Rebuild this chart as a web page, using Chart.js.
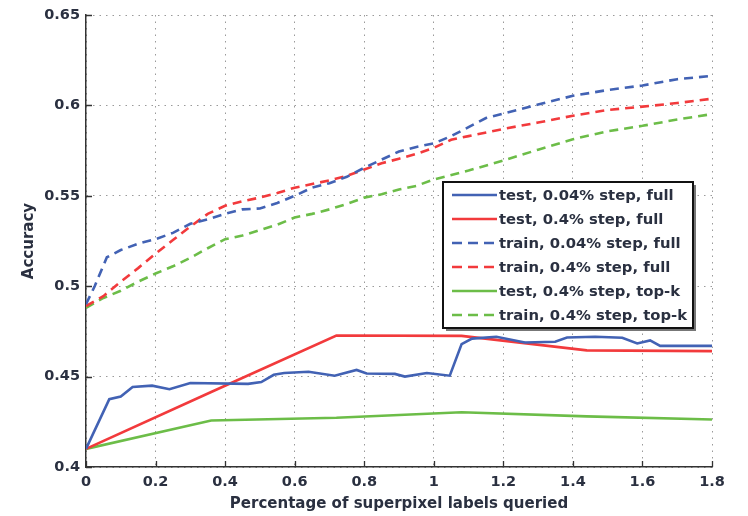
<!DOCTYPE html>
<html>
<head>
<meta charset="utf-8">
<script src="https://cdn.jsdelivr.net/npm/chart.js@4.4.1/dist/chart.umd.min.js"></script>
<style>
  html, body { margin: 0; padding: 0; background: #fff; }
  #wrap { width: 748px; height: 516px; position: relative; }
</style>
</head>
<body>
<div id="wrap"><canvas id="c" width="748" height="516"></canvas></div>
<script>
// ---- tick labels ----
const xTickValues = [0, 0.2, 0.4, 0.6, 0.8, 1, 1.2, 1.4, 1.6, 1.8];
const yTickValues = [0.4, 0.45, 0.5, 0.55, 0.6, 0.65];
const xTitle = 'Percentage of superpixel labels queried';
const yTitle = 'Accuracy';

// ---- series ----
const seriesLabels = [
  'test, 0.04% step, full',
  'test, 0.4% step, full',
  'train, 0.04% step, full',
  'train, 0.4% step, full',
  'test, 0.4% step, top-k',
  'train, 0.4% step, top-k'
];

const testFineX = [0, 0.067, 0.1, 0.134, 0.19, 0.24, 0.30, 0.466, 0.504, 0.54, 0.57, 0.64, 0.715, 0.778, 0.807, 0.888, 0.917, 0.98, 1.046, 1.08, 1.11, 1.18, 1.262, 1.349, 1.383, 1.464, 1.542, 1.585, 1.622, 1.651, 1.8];
const testFineY = [0.410, 0.4375, 0.439, 0.4443, 0.445, 0.443, 0.4465, 0.446, 0.447, 0.451, 0.452, 0.4527, 0.4505, 0.4537, 0.4517, 0.4515, 0.450, 0.452, 0.4505, 0.468, 0.471, 0.472, 0.4689, 0.4693, 0.4716, 0.472, 0.4715, 0.4683, 0.470, 0.467, 0.467];

const testCoarseX = [0, 0.36, 0.72, 1.08, 1.44, 1.8];
const testCoarseY = [0.410, 0.4415, 0.4727, 0.4725, 0.4645, 0.4641];

const trainFineX = [0, 0.025, 0.06, 0.1, 0.15, 0.2, 0.25, 0.3, 0.35, 0.4, 0.45, 0.5, 0.55, 0.6, 0.65, 0.7, 0.75, 0.8, 0.85, 0.9, 0.95, 1.0, 1.05, 1.1, 1.15, 1.2, 1.3, 1.4, 1.5, 1.6, 1.7, 1.8];
const trainFineY = [0.490, 0.500, 0.516, 0.520, 0.5235, 0.526, 0.5295, 0.5345, 0.537, 0.540, 0.5425, 0.543, 0.546, 0.550, 0.5545, 0.557, 0.5605, 0.5655, 0.570, 0.5745, 0.577, 0.579, 0.583, 0.588, 0.593, 0.5955, 0.6005, 0.6053, 0.6085, 0.611, 0.6145, 0.6163];

const trainCoarseX = [0, 0.05, 0.1, 0.15, 0.2, 0.25, 0.3, 0.35, 0.4, 0.45, 0.5, 0.55, 0.6, 0.65, 0.7, 0.75, 0.8, 0.85, 0.9, 0.95, 1.0, 1.05, 1.1, 1.2, 1.3, 1.4, 1.5, 1.6, 1.7, 1.8];
const trainCoarseY = [0.489, 0.4945, 0.5025, 0.510, 0.518, 0.5255, 0.533, 0.540, 0.5445, 0.547, 0.549, 0.5515, 0.5545, 0.5565, 0.5585, 0.561, 0.5645, 0.568, 0.5705, 0.5732, 0.5765, 0.581, 0.583, 0.587, 0.5905, 0.5943, 0.5975, 0.5993, 0.6013, 0.6037];

const testTopkX = [0, 0.36, 0.72, 1.08, 1.44, 1.8];
const testTopkY = [0.410, 0.4257, 0.4272, 0.4303, 0.4280, 0.4263];

const trainTopkX = [0, 0.05, 0.1, 0.15, 0.2, 0.25, 0.3, 0.35, 0.4, 0.45, 0.5, 0.55, 0.6, 0.65, 0.7, 0.75, 0.8, 0.85, 0.9, 0.95, 1.0, 1.1, 1.2, 1.3, 1.4, 1.5, 1.6, 1.7, 1.8];
const trainTopkY = [0.488, 0.4935, 0.4975, 0.5025, 0.507, 0.511, 0.5157, 0.521, 0.526, 0.528, 0.531, 0.534, 0.538, 0.540, 0.5425, 0.5455, 0.549, 0.5508, 0.5535, 0.5555, 0.559, 0.564, 0.5695, 0.5755, 0.5813, 0.5857, 0.5887, 0.5922, 0.5952];

const BLUE = '#4262b4';
const RED = '#f23a3c';
const GREEN = '#6cbd48';
const DASH = [9, 6];

function pts(xs, ys) { return xs.map((x, i) => ({ x: x, y: ys[i] })); }

function ds(label, xs, ys, color, dashed) {
  return {
    label: label,
    data: pts(xs, ys),
    borderColor: color,
    backgroundColor: color,
    borderWidth: 2.6,
    borderDash: dashed ? DASH : [],
    pointRadius: 0,
    pointHoverRadius: 0,
    tension: 0,
    fill: false
  };
}

const datasets = [
  ds(seriesLabels[0], testFineX, testFineY, BLUE, false),
  ds(seriesLabels[1], testCoarseX, testCoarseY, RED, false),
  ds(seriesLabels[2], trainFineX, trainFineY, BLUE, true),
  ds(seriesLabels[3], trainCoarseX, trainCoarseY, RED, true),
  ds(seriesLabels[4], testTopkX, testTopkY, GREEN, false),
  ds(seriesLabels[5], trainTopkX, trainTopkY, GREEN, true)
];

const TEXT = '#2a3040';

const innerTicks = {
  id: 'innerTicks',
  afterDatasetsDraw(chart) {
    const ctx = chart.ctx, a = chart.chartArea;
    const xs = chart.scales.x, ys = chart.scales.y;
    ctx.save();
    ctx.strokeStyle = '#333';
    ctx.lineWidth = 1.3;
    ctx.beginPath();
    xs.ticks.forEach(t => {
      const px = Math.round(xs.getPixelForValue(t.value)) + 0.5;
      ctx.moveTo(px, a.bottom); ctx.lineTo(px, a.bottom - 6);
    });
    ys.ticks.forEach(t => {
      const py = Math.round(ys.getPixelForValue(t.value)) + 0.5;
      ctx.moveTo(a.left, py); ctx.lineTo(a.left + 6, py);
    });
    ctx.stroke();
    ctx.restore();
  }
};

const boxLegend = {
  id: 'boxLegend',
  afterDraw(chart) {
    const ctx = chart.ctx;
    const bx = 443, by = 182, bw = 250, bh = 146;
    ctx.save();
    ctx.fillStyle = '#777';
    ctx.fillRect(bx + 3, by + 3, bw, bh);
    ctx.fillStyle = '#fff';
    ctx.fillRect(bx, by, bw, bh);
    ctx.strokeStyle = '#111';
    ctx.lineWidth = 2;
    ctx.strokeRect(bx, by, bw, bh);
    ctx.font = 'bold 14.8px "DejaVu Sans"';
    ctx.textBaseline = 'middle';
    ctx.textAlign = 'left';
    chart.data.datasets.forEach((d, i) => {
      const y = 195 + i * 24;
      ctx.strokeStyle = d.borderColor;
      ctx.lineWidth = 2.6;
      ctx.setLineDash(d.borderDash && d.borderDash.length ? [10, 6] : []);
      ctx.beginPath();
      ctx.moveTo(452, y); ctx.lineTo(497, y);
      ctx.stroke();
      ctx.setLineDash([]);
      ctx.fillStyle = TEXT;
      ctx.fillText(d.label, 499, y + 1);
    });
    ctx.restore();
  }
};

const gridStyle = { color: '#9a9a9a', lineWidth: 1, drawTicks: false, tickLength: 0 };

new Chart(document.getElementById('c'), {
  type: 'line',
  data: { datasets: datasets },
  options: {
    responsive: false,
    animation: false,
    events: [],
    layout: { padding: { top: 15, right: 36, left: 0, bottom: 0 } },
    plugins: { legend: { display: false }, tooltip: { enabled: false }, title: { display: false } },
    scales: {
      x: {
        type: 'linear',
        min: 0, max: 1.8,
        afterBuildTicks(s) { s.ticks = xTickValues.map(v => ({ value: v })); },
        afterFit(s) { s.height = 49; },
        ticks: {
          color: TEXT,
          font: { family: '"DejaVu Sans"', size: 14.5, weight: 'bold' },
          padding: 7,
          maxRotation: 0,
          callback: v => String(v)
        },
        grid: gridStyle,
        border: { display: true, color: '#333', width: 1.5, dash: [1.5, 5] },
        title: {
          display: true, text: xTitle, color: TEXT,
          font: { family: '"DejaVu Sans"', size: 15, weight: 'bold' },
          padding: { top: 0, bottom: 3 }
        }
      },
      y: {
        type: 'linear',
        min: 0.4, max: 0.65,
        afterBuildTicks(s) { s.ticks = yTickValues.map(v => ({ value: v })); },
        afterFit(s) { s.width = 86; },
        ticks: {
          color: TEXT,
          font: { family: '"DejaVu Sans"', size: 14.5, weight: 'bold' },
          padding: 6,
          callback: v => String(v)
        },
        grid: gridStyle,
        border: { display: true, color: '#333', width: 1.5, dash: [1.5, 5] },
        title: {
          display: true, text: yTitle, color: TEXT,
          font: { family: '"DejaVu Sans"', size: 15, weight: 'bold' },
          padding: { top: 20, bottom: 0 }
        }
      }
    }
  },
  plugins: [innerTicks, boxLegend]
});
</script>
</body>
</html>
